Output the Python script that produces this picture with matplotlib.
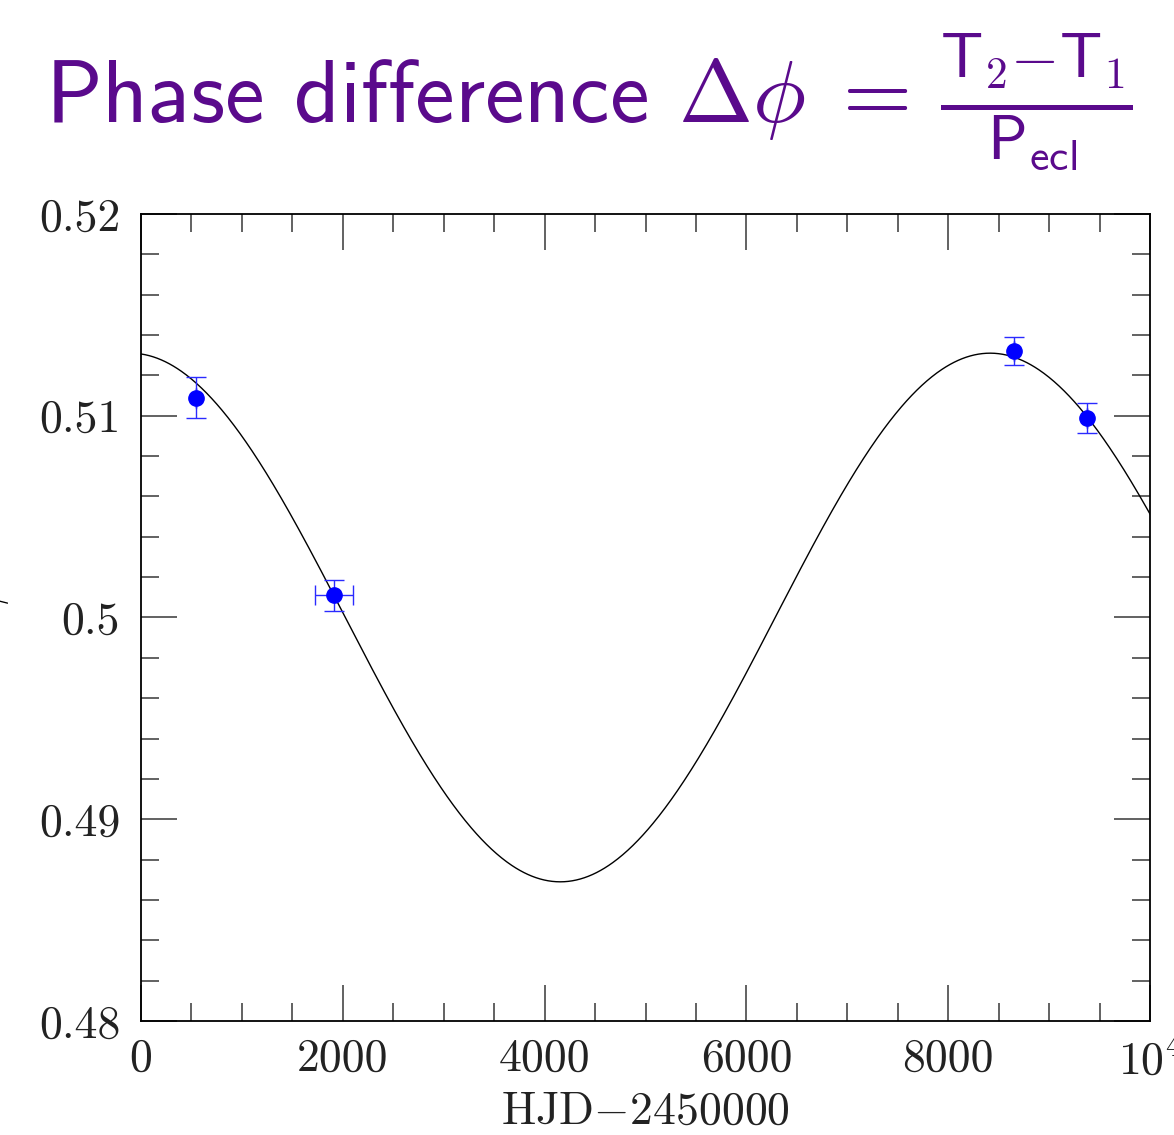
import matplotlib
matplotlib.use("Agg")
import matplotlib.pyplot as plt
import numpy as np
from matplotlib.ticker import MultipleLocator, FuncFormatter

# measured phase differences
hjd = [545, 1913, 8652, 9376]
dphi = [0.5109, 0.5011, 0.5132, 0.5099]
hjd_err = [0, 188, 0, 0]
dphi_err = [0.0010, 0.00077, 0.0007, 0.00074]

# sinusoidal fit (light-time effect model)
fit_mean = 0.5
fit_amp = 0.0131
fit_period = 8520.0
fit_tmax = -105.0

x_ticks = [0, 2000, 4000, 6000, 8000, 10000]
y_ticks = [0.48, 0.49, 0.50, 0.51, 0.52]
y_tick_labels = ["0.48", "0.49", "0.5", "0.51", "0.52"]

plt.rcParams["mathtext.fontset"] = "cm"
plt.rcParams["font.family"] = ["cmr10", "DejaVu Serif"]
plt.rcParams["axes.formatter.use_mathtext"] = True

fig = plt.figure(figsize=(11.74, 11.35), dpi=100)
ax = fig.add_axes([0.1201, 0.1004, 0.8595, 0.7111])

t = np.linspace(0, 10000, 1000)
model = fit_mean + fit_amp * np.cos(2 * np.pi * (t - fit_tmax) / fit_period)
ax.plot(t, model, color="black", lw=1.0)

ax.errorbar(hjd, dphi, xerr=hjd_err, yerr=dphi_err, fmt="o", color="#0000ff",
            ms=11, elinewidth=1.0, capsize=7, capthick=1.0, ecolor="#2a2aff")

ax.set_xlim(0, 10000)
ax.set_ylim(0.48, 0.52)
ax.xaxis.set_major_locator(MultipleLocator(2000))
ax.xaxis.set_minor_locator(MultipleLocator(500))
ax.yaxis.set_major_locator(MultipleLocator(0.01))
ax.yaxis.set_minor_locator(MultipleLocator(0.002))


def xfmt(v, pos):
    if abs(v - 10000) < 1:
        return r"$10^4$"
    return f"{v:.0f}"


def yfmt(v, pos):
    for tv, lab in zip(y_ticks, y_tick_labels):
        if abs(v - tv) < 1e-6:
            return lab
    return ""


ax.xaxis.set_major_formatter(FuncFormatter(xfmt))
ax.yaxis.set_major_formatter(FuncFormatter(yfmt))

ax.tick_params(which="both", direction="in", top=True, right=True,
               color="#555555", width=1.3, labelsize=33, labelcolor="#222222")
ax.tick_params(which="major", length=26)
ax.tick_params(axis="x", which="major", pad=12)
ax.tick_params(axis="y", which="major", pad=15)
ax.tick_params(which="minor", length=13)
for s in ax.spines.values():
    s.set_linewidth(1.3)

ax.set_xlabel("HJD$-$2450000", fontsize=33, color="#222222", labelpad=6)
ax.set_ylabel(r"$\Delta\phi$", fontsize=34, labelpad=20)

fig.text(0.038, 0.8925,
         r"Phase difference $\mathsf{\Delta}\phi\;=\,"
         r"\frac{\mathsf{T}_\mathsf{2}\mathsf{-}\mathsf{T}_\mathsf{1}}"
         r"{\mathsf{P}_\mathsf{ecl}}$",
         fontsize=64, color="#5a0a8c", family="cmss10", va="baseline", ha="left")

fig.savefig("out.png", dpi=100)
